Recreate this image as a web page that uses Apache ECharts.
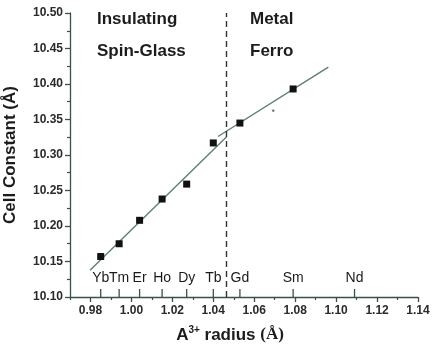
<!DOCTYPE html>
<html>
<head>
<meta charset="utf-8">
<script src="https://cdn.jsdelivr.net/npm/echarts@6/dist/echarts.min.js"></script>
<style>
  html, body { margin: 0; padding: 0; background: #fff; }
  #chart { width: 436px; height: 353px; }
</style>
</head>
<body>
<div id="chart"></div>
<script>
// rare-earth ions marked along the x axis
const elementNames = ['Yb', 'Tm', 'Er', 'Ho', 'Dy', 'Tb', 'Gd', 'Sm', 'Nd']
const elementRadii = [0.985, 0.994, 1.004, 1.015, 1.027, 1.040, 1.053, 1.079, 1.109]

// measured cell constants (first 8 elements)
const cellConstant = [10.157, 10.175, 10.208, 10.238, 10.259, 10.317, 10.345, 10.393]

// linear fits, one per regime
const fitInsulating = [[0.9798, 10.1377], [1.0464, 10.3254]]
const fitMetal = [[1.0423, 10.3261], [1.0962, 10.4238]]

// boundary between regimes
const boundaryRadius = 1.0465

// stray speck in the scan
const strayDot = [[1.0693, 10.3625]]

const xTickLabels = ['0.98', '1.00', '1.02', '1.04', '1.06', '1.08', '1.10', '1.12', '1.14']
const xMinorTicks = [0.97, 0.99, 1.01, 1.03, 1.05, 1.07, 1.09, 1.11, 1.13]
const yTickLabels = ['10.10', '10.15', '10.20', '10.25', '10.30', '10.35', '10.40', '10.45', '10.50']

const FONT = 'Liberation Sans, Arial, sans-serif'
const axisColor = '#3b4f4b'
const fitColor = '#5f7d77'
const textColor = '#1c1c1c'

const chart = echarts.init(document.getElementById('chart'))

const points = elementRadii.slice(0, cellConstant.length).map((r, i) => [r, cellConstant[i]])
const yMin = 10.10
const elementMarks = elementRadii.map((r, i) => ({ name: elementNames[i], value: [r, yMin] }))

const xMin = 0.97
const xMax = 1.14

const option = {
  animation: false,
  backgroundColor: '#fff',
  grid: { left: 70, right: 18, top: 13, bottom: 56, containLabel: false, outerBoundsMode: 'none' },
  xAxis: [
    {
      type: 'value',
      min: xMin,
      max: xMax,
      position: 'bottom',
      name: '{b|A}{sup|3+}{b| radius }{s|(Å)}',
      nameLocation: 'middle',
      nameGap: 28,
      nameTextStyle: {
        padding: [0, 28, 0, 0],
        rich: {
          b: { fontFamily: FONT, fontWeight: 'bold', fontSize: 17, color: textColor, lineHeight: 20 },
          sup: { fontFamily: FONT, fontWeight: 'bold', fontSize: 10, color: textColor, verticalAlign: 'top', lineHeight: 20 },
          s: { fontFamily: 'Liberation Serif, serif', fontWeight: 'bold', fontSize: 17, color: textColor, lineHeight: 20 }
        }
      },
      splitLine: { show: false },
      axisLine: { show: true, lineStyle: { color: axisColor, width: 1.3 } },
      axisTick: { show: true, length: 5, customValues: xTickLabels.map(Number), lineStyle: { color: axisColor, width: 1.3 } },
      axisLabel: {
        customValues: xTickLabels.map(Number),
        formatter: v => v.toFixed(2),
        margin: 8,
        fontFamily: FONT,
        fontWeight: 'bold',
        fontSize: 12,
        color: '#2a2a2a'
      }
    },
    {
      // minor ticks
      type: 'value',
      min: xMin,
      max: xMax,
      position: 'bottom',
      splitLine: { show: false },
      axisLine: { show: false },
      axisTick: { show: true, length: 3, customValues: xMinorTicks, lineStyle: { color: axisColor, width: 1.2 } },
      axisLabel: { show: false }
    }
  ],
  yAxis: {
    type: 'value',
    min: yMin,
    max: 10.50,
    interval: 0.05,
    name: 'Cell Constant (Å)',
    nameLocation: 'middle',
    nameRotate: 90,
    nameGap: 51,
    nameTextStyle: { fontFamily: FONT, fontWeight: 'bold', fontSize: 17, color: textColor },
    splitLine: { show: false },
    axisLine: { show: true, lineStyle: { color: axisColor, width: 1.3 } },
    axisTick: { show: true, length: 5, lineStyle: { color: axisColor, width: 1.3 } },
    minorTick: { show: true, splitNumber: 2, length: 3, lineStyle: { color: axisColor, width: 1.2 } },
    axisLabel: {
      formatter: v => yTickLabels[Math.round((v - yMin) / 0.05)],
      margin: 7,
      fontFamily: FONT,
      fontWeight: 'bold',
      fontSize: 12,
      color: '#2a2a2a'
    }
  },
  graphic: [
    { type: 'text', left: 97, top: 11, style: { text: 'Insulating', font: 'bold 17px ' + FONT, fill: textColor } },
    { type: 'text', left: 97, top: 43, style: { text: 'Spin-Glass', font: 'bold 17px ' + FONT, fill: textColor } },
    { type: 'text', left: 250, top: 11, style: { text: 'Metal', font: 'bold 17px ' + FONT, fill: textColor } },
    { type: 'text', left: 250, top: 43, style: { text: 'Ferro', font: 'bold 17px ' + FONT, fill: textColor } }
  ],
  series: [
    {
      name: 'fit insulating',
      type: 'line',
      data: fitInsulating,
      showSymbol: false,
      silent: true,
      z: 2,
      lineStyle: { color: fitColor, width: 1.4 },
      markLine: {
        silent: true,
        symbol: 'none',
        precision: 4,
        label: { show: false },
        lineStyle: { color: '#333', width: 1.4, type: [6, 4] },
        data: [{ xAxis: boundaryRadius }]
      }
    },
    {
      name: 'fit metal',
      type: 'line',
      data: fitMetal,
      showSymbol: false,
      silent: true,
      z: 2,
      lineStyle: { color: fitColor, width: 1.4 }
    },
    {
      name: 'elements',
      type: 'scatter',
      data: elementMarks,
      silent: true,
      clip: false,
      symbol: 'rect',
      symbolSize: [1.3, 8],
      symbolOffset: [0, -4],
      itemStyle: { color: axisColor, opacity: 1 },
      label: {
        show: true,
        position: 'top',
        distance: 4,
        formatter: p => p.name,
        fontFamily: FONT,
        fontSize: 14,
        color: '#1a1a1a',
        opacity: 1
      },
      labelLayout: { hideOverlap: false }
    },
    {
      name: 'cell constant',
      type: 'scatter',
      data: points,
      z: 6,
      symbol: 'rect',
      symbolSize: 7,
      itemStyle: { color: '#111', opacity: 1 }
    },
    {
      name: 'speck',
      type: 'scatter',
      data: strayDot,
      symbol: 'rect',
      symbolSize: 2,
      itemStyle: { color: '#555', opacity: 1 }
    }
  ]
}

chart.setOption(option)
</script>
</body>
</html>
